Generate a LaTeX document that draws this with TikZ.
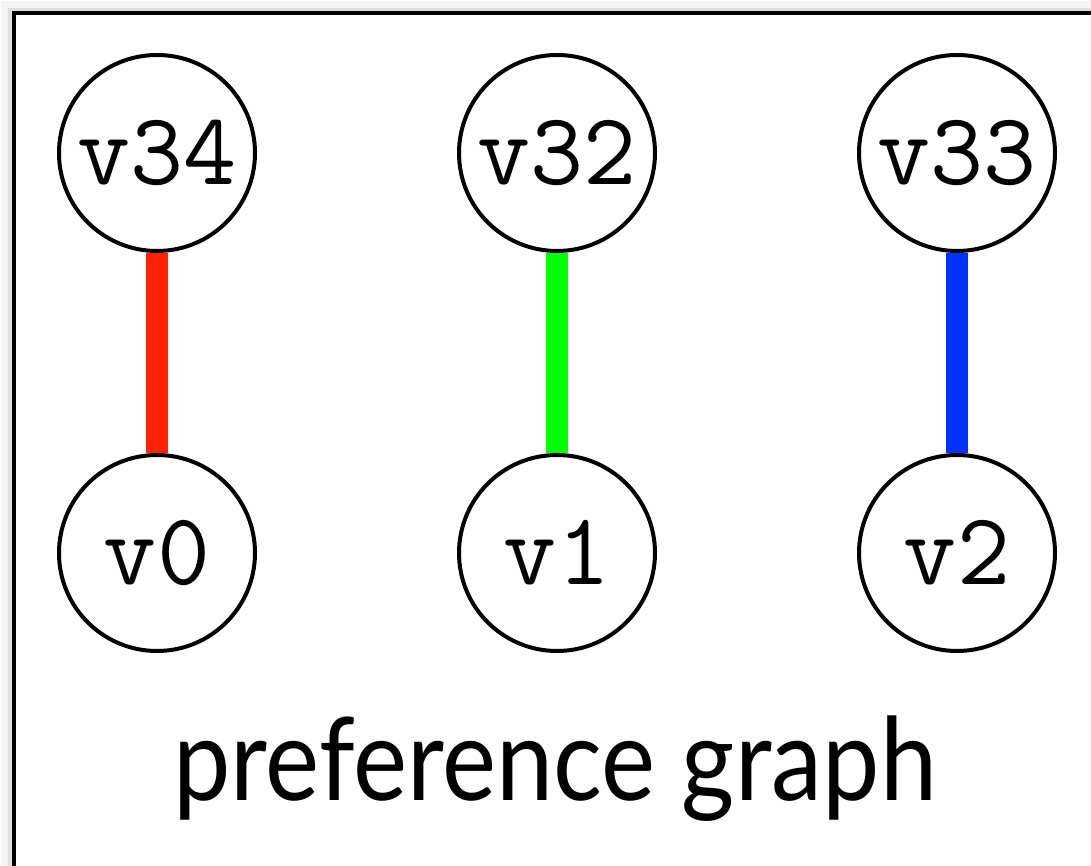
\documentclass[tikz,border=0pt]{standalone}
\usepackage{fontspec}
\newfontfamily\captionfont{Lato}
\usetikzlibrary{positioning}

\definecolor{prefred}{RGB}{255,34,0}
\definecolor{prefgreen}{RGB}{0,255,0}
\definecolor{prefblue}{RGB}{0,51,255}

\begin{document}
\begin{tikzpicture}[
		x=1pt, y=1pt,
		node distance=200pt,
		% Styles
		vertex/.style={circle, draw=black, line width=4pt, fill=white, minimum size=196pt, inner sep=0pt,
				font=\ttfamily\fontsize{103}{103}\selectfont},
		pref/.style={line width=22pt},
		frame/.style={line width=4pt, draw=black},
		shadowLine/.style={line cap=butt}
	]
	\useasboundingbox (0,0) rectangle (1091,866);

	% --- 1. FRAME ---
	\draw[shadowLine, gray!8, line width=8pt] (5,-20) |- (1110,861);
	\draw[shadowLine, gray!25, line width=4pt] (10,-20) |- (1110,856);
	\draw[frame] (14,-20) |- (1110,853);

	% --- 2. VERTICES ---
	\node[vertex] (v34) at (157,713) {v34};
	\node[vertex, right=of v34] (v32) {v32};
	\node[vertex, right=of v32] (v33) {v33};
	\node[vertex, below=of v34] (v0) {v0};
	\node[vertex, below=of v32] (v1) {v1};
	\node[vertex, below=of v33] (v2) {v2};

	% --- 3. PREFERENCE EDGES ---
	\draw[pref, prefred] (v34) -- (v0);
	\draw[pref, prefgreen] (v32) -- (v1);
	\draw[pref, prefblue] (v33) -- (v2);

	% --- 4. CAPTION ---
	\node[anchor=base, xscale=0.89, transform shape, font=\captionfont\fontsize{115}{115}\selectfont] (caption) at (555,65) {preference graph};

\end{tikzpicture}
\end{document}
